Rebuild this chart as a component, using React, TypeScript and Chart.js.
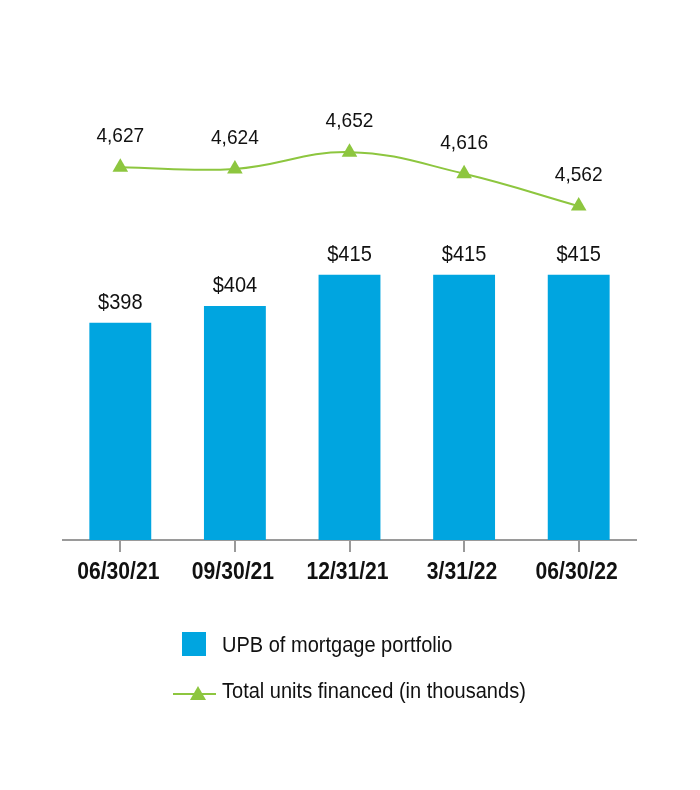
import React, { useEffect, useRef } from "react";
import { Chart, registerables } from "chart.js";

Chart.register(...registerables);

const categories = ["06/30/21", "09/30/21", "12/31/21", "3/31/22", "06/30/22"];
const upbValues = [398, 404, 415, 415, 415];
const unitsValues = [4627, 4624, 4652, 4616, 4562];
const upbLabels = ["$398", "$404", "$415", "$415", "$415"];
const unitsLabels = ["4,627", "4,624", "4,652", "4,616", "4,562"];
const legendLabels = ["UPB of mortgage portfolio", "Total units financed (in thousands)"];

const BLUE = "#00A5E0";
const GREEN = "#8DC63F";
const FONT = '"Liberation Sans", Arial, sans-serif';
const SQ = 0.91;
const SQB = 0.88;

function narrowText(ctx: any, text: string, x: number, y: number, sq: number) {
  ctx.save();
  ctx.translate(x, y);
  ctx.scale(sq, 1);
  ctx.fillText(text, 0, 0);
  ctx.restore();
}

const labelPlugin = {
  id: "valueLabels",
  afterDatasetsDraw(chart: any) {
    const ctx = chart.ctx;
    ctx.save();
    ctx.fillStyle = "#111";
    ctx.textAlign = "center";
    ctx.textBaseline = "alphabetic";
    ctx.font = `22px ${FONT}`;
    const barMeta = chart.getDatasetMeta(0);
    barMeta.data.forEach((el: any, i: number) => {
      narrowText(ctx, upbLabels[i], el.x, el.y - 14, SQ);
    });
    ctx.font = `21px ${FONT}`;
    const lineMeta = chart.getDatasetMeta(1);
    lineMeta.data.forEach((el: any, i: number) => {
      narrowText(ctx, unitsLabels[i], el.x, el.y - 25, SQ);
    });
    const xs = chart.scales.x;
    ctx.font = `bold 24px ${FONT}`;
    categories.forEach((c, i) => {
      narrowText(ctx, c, xs.getPixelForTick(i) - 2, xs.top + 39, SQB);
    });
    ctx.restore();
  },
};

export default function App() {
  const ref = useRef<HTMLCanvasElement>(null);
  useEffect(() => {
    document.body.style.margin = "0";
    const chart = new Chart(ref.current!, {
      data: {
        labels: categories,
        datasets: [
          {
            type: "bar",
            label: legendLabels[0],
            data: upbValues,
            backgroundColor: BLUE,
            yAxisID: "y",
            categoryPercentage: 1,
            barPercentage: 0.54,
            order: 2,
          },
          {
            type: "line",
            label: legendLabels[1],
            data: unitsValues,
            borderColor: GREEN,
            backgroundColor: GREEN,
            borderWidth: 2,
            pointStyle: "triangle",
            pointRadius: 9,
            pointBorderWidth: 0,
            tension: 0.4,
            yAxisID: "y1",
            order: 1,
          },
        ],
      } as any,
      options: {
        animation: false,
        responsive: false,
        devicePixelRatio: 1,
        layout: { padding: { left: 63, right: 64, top: 100, bottom: 190 } },
        plugins: { legend: { display: false }, tooltip: { enabled: false } },
        scales: {
          x: {
            offset: true,
            grid: { offset: false, drawOnChartArea: false, drawTicks: true, tickLength: 12, color: "#9a9a9a", lineWidth: 2 },
            border: { display: true, color: "#9a9a9a", width: 2 },
            ticks: { display: false },
            afterFit(scale: any) {
              scale.height = 60;
            },
          },
          y: { display: false, min: 321, max: 477 },
          y1: { display: false, min: 4005, max: 4739 },
        },
      } as any,
      plugins: [labelPlugin],
    });
    return () => chart.destroy();
  }, []);

  const textStyle: any = {
    display: "inline-block",
    transform: `scaleX(${SQ})`,
    transformOrigin: "left center",
    whiteSpace: "nowrap",
  };

  return (
    <div style={{ position: "relative", width: 700, height: 790, background: "#fff" }}>
      <canvas ref={ref} width={700} height={790} style={{ display: "block" }} />
      <div
        style={{
          position: "absolute",
          left: 182,
          top: 632,
          height: 24,
          fontFamily: FONT,
          fontSize: 22,
          color: "#111",
          display: "flex",
          alignItems: "center",
        }}
      >
        <span style={{ display: "inline-block", width: 24, height: 24, background: BLUE, marginRight: 16 }} />
        <span style={{ ...textStyle, lineHeight: "24px", position: "relative", top: 1 }}>{legendLabels[0]}</span>
      </div>
      <div
        style={{
          position: "absolute",
          left: 173,
          top: 680,
          height: 24,
          fontFamily: FONT,
          fontSize: 22,
          color: "#111",
          display: "flex",
          alignItems: "center",
        }}
      >
        <svg width={43} height={24} style={{ marginRight: 6 }}>
          <line x1={0} y1={14} x2={43} y2={14} stroke={GREEN} strokeWidth={2} />
          <polygon points="25,6 33,20 17,20" fill={GREEN} />
        </svg>
        <span style={{ ...textStyle, lineHeight: "24px", position: "relative", top: -1 }}>{legendLabels[1]}</span>
      </div>
    </div>
  );
}
